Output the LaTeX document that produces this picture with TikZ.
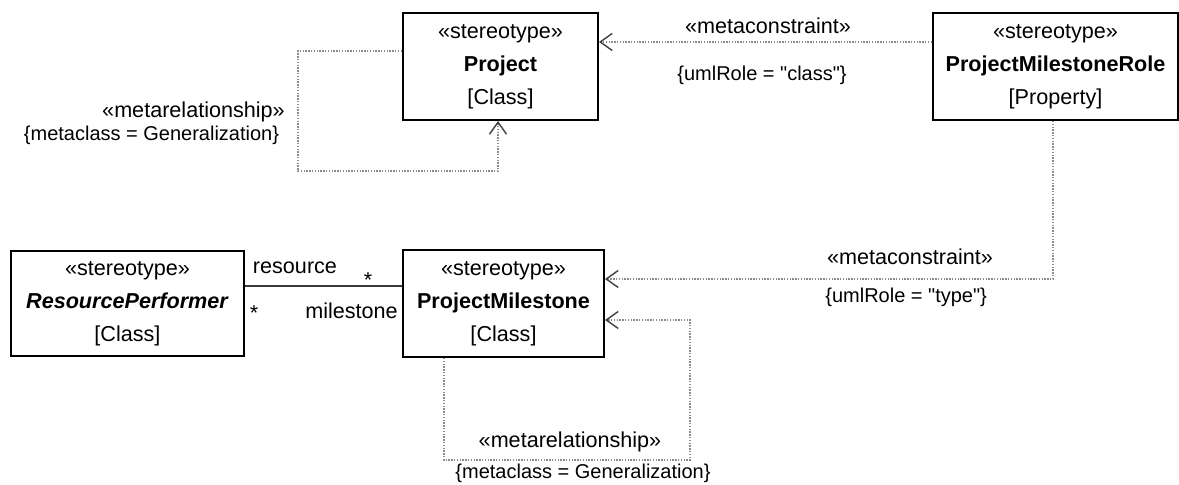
\documentclass[tikz,border=0pt]{standalone}
\usepackage{fontspec}
\setmainfont{Liberation Sans}[Ligatures=TeXOff]
\usepackage{tikz}
\usetikzlibrary{arrows.meta,calc}
\definecolor{metagrey}{HTML}{8C8C8C}
\definecolor{tipgrey}{HTML}{404040}
\definecolor{assocgrey}{HTML}{3A3A3A}

\begin{document}
\begin{tikzpicture}[
    x=0.5pt, y=-0.5pt,
    every node/.style={font=\fontsize{10.8}{16.5}\selectfont, inner sep=0pt},
    stereo/.style={draw, line width=1pt, align=center, minimum height=53.5pt},
    meta/.style={metagrey, line width=0.7pt, dash pattern=on 0.7pt off 0.7pt,
      -{Straight Barb[length=6pt,width=8.5pt,color=tipgrey]}},
    assoc/.style={assocgrey, line width=1pt},
    tag/.style={font=\fontsize{10}{12}\selectfont}
  ]
  \useasboundingbox (0,0) rectangle (1179,485);

  % --- stereotypes -------------------------------------------------------
  \node[stereo, minimum width=97.5pt]  (proj) at (500.5,66.5)  {«stereotype»\\\textbf{Project}\\{[Class]}};
  \node[stereo, minimum width=122.5pt] (role) at (1055.5,66.5) {«stereotype»\\\textbf{ProjectMilestoneRole}\\{[Property]}};
  \node[stereo, minimum width=116.5pt, minimum height=52.5pt] (perf) at (127.5,303.5) {«stereotype»\\\textbf{\textit{ResourcePerformer}}\\{[Class]}};
  \node[stereo, minimum width=100.5pt] (pm)   at (503.5,303.5) {«stereotype»\\\textbf{ProjectMilestone}\\{[Class]}};

  % --- association ResourcePerformer -- ProjectMilestone ------------------
  \draw[assoc] ([yshift=8.75pt]perf.east) -- ([yshift=8.75pt]pm.west);
  \node (rres) at (295,268)   {resource};
  \node (rmil) at (351.5,311) {milestone};
  \node (mres) at (368,280)   {*};
  \node (mmil) at (254,313)   {*};

  % --- metaconstraints ---------------------------------------------------
  \draw[meta] ([yshift=12.25pt]role.west) -- ([yshift=12.25pt]proj.east);
  \node (mcup) at (768,26) {«metaconstraint»};
  \node[tag] (rcls) at (762,75) {\{umlRole = "class"\}};

  \draw[meta] ([xshift=-1.25pt]role.south) |- ([yshift=12.25pt]pm.east);
  \node (mclo) at (910,257) {«metaconstraint»};
  \node[tag, anchor=west] (rtyp) at (825,297) {\{umlRole = "type"\}};

  % --- metarelationships (self loops) ------------------------------------
  \coordinate (projbend) at (298,171);
  \draw[meta] ([yshift=7.75pt]proj.west) -| (projbend) -| ([xshift=-1.25pt]proj.south);
  \node (mrup) at (193.5,112) {«metarelationship»};
  \node[tag] (gnup) at (151.5,135) {\{metaclass = Generalization\}};

  \coordinate (pmbend) at (690,460);
  \draw[meta] ([xshift=-29.75pt]pm.south) |- (pmbend) |- ([yshift=-8.25pt]pm.east);
  \node (mrlo) at (570,442) {«metarelationship»};
  \node[tag] (gnlo) at (583,473) {\{metaclass = Generalization\}};

\end{tikzpicture}
\end{document}
